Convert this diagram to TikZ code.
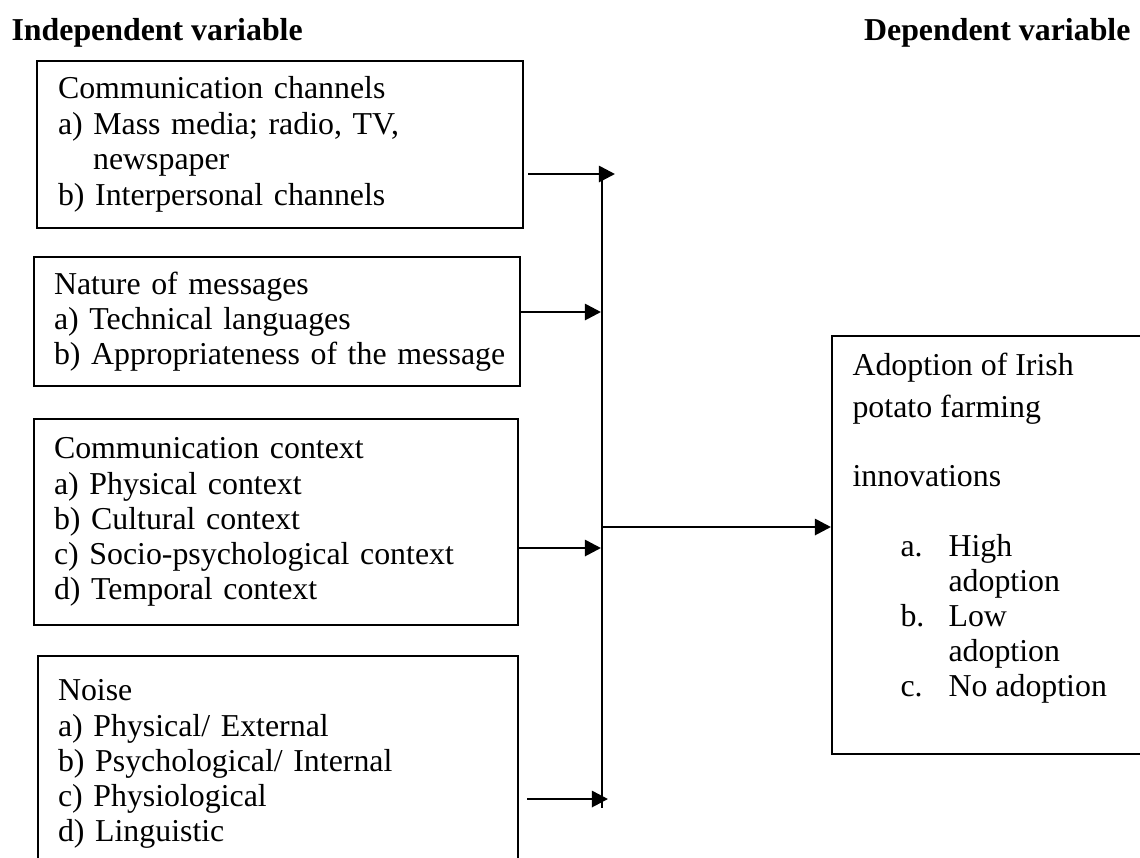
\documentclass[tikz,border=0pt]{standalone}
\usepackage{fontspec}
\setmainfont{Liberation Serif}
\usetikzlibrary{arrows.meta}
\newlength{\px}
\setlength{\px}{0.37037pt}
\tikzset{
  txt/.style={font=\fontsize{11.8}{13}\selectfont},
  head/.style={font=\fontsize{11.8}{13}\selectfont\bfseries, inner sep=0pt},
  varbox/.style={txt, draw, line width=0.75pt, anchor=north west, align=left, inner xsep=20\px, inner ysep=0pt},
  arr/.style={line width=1pt, -{Triangle[length=6pt,width=6pt]}},
  bus/.style={line width=0.75pt},
}
\begin{document}
\begin{tikzpicture}[x=\px, y=-\px]
\useasboundingbox (0,0) rectangle (1140,857);
\clip (0,0) rectangle (1140,857);
\node[head, anchor=base west] (indep) at (11,40) {Independent variable}; %heading left
\node[head, anchor=base east] (dep) at (1131,40) {Dependent variable}; %heading right
\node[varbox, minimum width=486\px, minimum height=167\px, text width=444\px, inner xsep=21\px] (chan) at (36,60)
  {Communication channels\\[1\px] a) Mass media; radio, TV,\\ \hspace*{13pt}newspaper\\[1\px] b) Interpersonal channels};
\node[varbox, minimum width=486\px, minimum height=129\px, text width=446\px] (msg) at (33,256)
  {Nature of messages\\ a) Technical languages\\ \mbox{b) Appropriateness of the message}};
\node[varbox, minimum width=484\px, minimum height=206\px, text width=444\px] (ctx) at (33,418)
  {Communication context\\ a) Physical context\\ b) Cultural context\\ c) Socio-psychological context\\ d) Temporal context};
\node[varbox, minimum width=480\px, minimum height=216\px, text width=440\px] (noise) at (37,655)
  {Noise\\ a) Physical/ External\\ b) Psychological/ Internal\\ c) Physiological\\ d) Linguistic};
\node[draw, line width=0.75pt, anchor=north west, minimum width=400\px, minimum height=418\px] (adopt) at (831,335) {};
\node[txt, anchor=north west, inner sep=0pt, align=left] (adopttext) at (852,353)
  {Adoption of Irish\\[6\px] potato farming\\[34\px] innovations\\[35\px]
   \hspace*{48\px}\makebox[48\px][l]{a.}High\\ \hspace*{96\px}adoption\\
   \hspace*{48\px}\makebox[48\px][l]{b.}Low\\ \hspace*{96\px}adoption\\
   \hspace*{48\px}\makebox[48\px][l]{c.}No adoption};
\coordinate (bustop) at (602,174);
\coordinate (busbot) at (602,808);
\coordinate (in1) at (615,174);
\coordinate (in2) at (601,312);
\coordinate (in3) at (601,548);
\coordinate (in4) at (608,799);
\coordinate (hub) at (602,527);
\draw[bus] (bustop) -- (busbot); %collecting line
\draw[arr, shorten <=4\px] (chan.east |- in1) -- (in1);
\draw[arr] (msg.east |- in2) -- (in2);
\draw[arr] (ctx.east |- in3) -- (in3);
\draw[arr, shorten <=8\px] (noise.east |- in4) -- (in4);
\draw[arr] (hub) -- (hub -| adopt.west);
\end{tikzpicture}
\end{document}
